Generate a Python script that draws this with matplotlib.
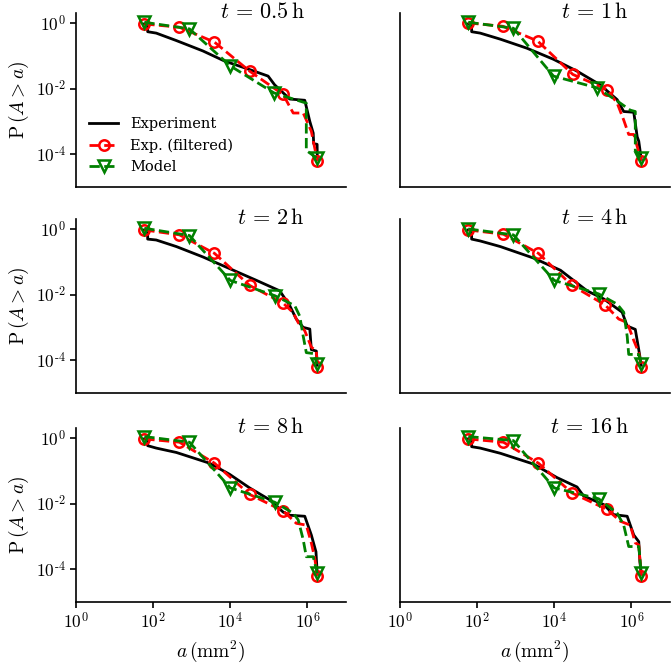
import numpy as np
import matplotlib
matplotlib.use("Agg")
import matplotlib.pyplot as plt

plt.rcParams["font.family"] = "DejaVu Serif"
plt.rcParams["mathtext.fontset"] = "cm"

# panel titles
times = ["0.5", "1", "2", "4", "8", "16"]

# experiment (black solid), a in mm^2 and P(A > a)
exp_a = [
    [59, 72, 72, 120, 400, 1950, 7080, 31600, 95500, 141000, 347000, 851000, 1150000, 1410000, 1450000, 1780000, 1800000],
    [59, 72, 72, 120, 400, 1950, 9550, 38900, 155000, 427000, 631000, 1150000, 1410000, 1550000, 1800000],
    [59, 72, 72, 120, 400, 1950, 9550, 47900, 191000, 347000, 513000, 776000, 1150000, 1260000, 1700000, 1800000],
    [59, 72, 72, 120, 400, 2880, 14500, 70800, 191000, 575000, 776000, 1260000, 1550000, 1800000],
    [59, 72, 72, 120, 400, 2880, 9550, 31600, 105000, 234000, 347000, 851000, 1260000, 1660000, 1800000],
    [59, 72, 72, 120, 400, 2880, 11700, 38900, 57500, 191000, 347000, 776000, 1150000, 1550000, 1660000, 1800000],
]
exp_p = [
    [0.93, 0.93, 0.54, 0.49, 0.29, 0.14, 0.069, 0.038, 0.024, 0.013, 0.0048, 0.0044, 0.001, 0.00044, 0.00021, 0.0002, 7e-5],
    [0.93, 0.93, 0.54, 0.49, 0.32, 0.17, 0.078, 0.034, 0.013, 0.0046, 0.002, 0.0019, 0.00034, 0.00025, 7e-5],
    [0.93, 0.93, 0.49, 0.46, 0.29, 0.14, 0.062, 0.027, 0.013, 0.0046, 0.0018, 0.001, 0.00089, 0.00021, 0.00019, 7e-5],
    [0.93, 0.93, 0.49, 0.43, 0.29, 0.13, 0.055, 0.013, 0.0074, 0.0029, 0.0011, 0.00087, 0.00021, 7e-5],
    [0.93, 0.93, 0.58, 0.49, 0.36, 0.17, 0.078, 0.03, 0.013, 0.0055, 0.0044, 0.0041, 0.0011, 0.00034, 7e-5],
    [0.93, 0.93, 0.54, 0.49, 0.34, 0.16, 0.062, 0.032, 0.017, 0.0093, 0.0046, 0.0041, 0.0011, 0.00069, 0.00017, 7e-5],
]

# filtered experiment (red dashed, circles)
filt_a = [
    [59, 480, 3890, 31600, 234000, 427000, 776000, 1260000, 1800000],
    [59, 468, 3720, 30200, 234000, 427000, 631000, 851000, 1150000, 1800000],
    [59, 480, 3890, 31600, 234000, 427000, 575000, 851000, 1260000, 1700000, 1800000],
    [59, 480, 3890, 28800, 209000, 468000, 776000, 1150000, 1550000, 1800000],
    [59, 480, 3890, 31600, 234000, 513000, 933000, 1260000, 1550000, 1800000],
    [59, 480, 3890, 28800, 234000, 513000, 933000, 1260000, 1550000, 1800000],
]
filt_p = [
    [0.93, 0.74, 0.26, 0.034, 0.0066, 0.0018, 0.0018, 0.0005, 6.3e-5],
    [1.0, 0.79, 0.28, 0.027, 0.0093, 0.0036, 0.0011, 0.0004, 0.0004, 6.3e-5],
    [0.93, 0.66, 0.18, 0.019, 0.0055, 0.0028, 0.0014, 0.00079, 0.00025, 0.00019, 6.3e-5],
    [0.93, 0.69, 0.18, 0.019, 0.0048, 0.0018, 0.0014, 0.0004, 0.00017, 6.3e-5],
    [0.93, 0.74, 0.17, 0.019, 0.006, 0.0025, 0.0022, 0.00063, 0.00021, 6.3e-5],
    [0.93, 0.74, 0.17, 0.021, 0.0066, 0.0029, 0.0022, 0.00063, 0.00055, 6.3e-5],
]

# model (green dashed, triangles)
model_a = [
    [59, 871, 10000, 135000, 933000, 933000, 1800000],
    [59, 871, 9550, 129000, 427000, 933000, 1260000, 1260000, 1800000],
    [59, 871, 10000, 141000, 468000, 631000, 776000, 933000, 1410000, 1800000],
    [59, 871, 10000, 141000, 427000, 631000, 776000, 851000, 1550000, 1800000],
    [59, 871, 10000, 141000, 427000, 575000, 776000, 933000, 1410000, 1800000],
    [59, 871, 10000, 141000, 427000, 631000, 851000, 1550000, 1800000],
]
model_p = [
    [1.05, 0.66, 0.049, 0.0074, 0.0036, 0.00013, 7.5e-5],
    [1.05, 0.69, 0.024, 0.0105, 0.0042, 0.0022, 0.002, 0.00013, 7.5e-5],
    [1.05, 0.63, 0.027, 0.0093, 0.0046, 0.0022, 0.00054, 0.00017, 0.00016, 7.5e-5],
    [1.0, 0.66, 0.027, 0.0105, 0.0051, 0.0029, 0.00054, 0.00015, 0.00015, 7.5e-5],
    [1.1, 0.74, 0.03, 0.011, 0.0051, 0.0032, 0.00079, 0.00024, 0.00024, 7.5e-5],
    [1.1, 0.83, 0.03, 0.014, 0.0051, 0.0022, 0.00049, 0.00049, 7.5e-5],
]

fig = plt.figure(figsize=(6.71, 6.63), dpi=100)
lefts = [0.1133, 0.5961]
bottoms = [0.7179, 0.4072, 0.092]
W, H = 0.4024, 0.2624

for i in range(6):
    row, col = i // 2, i % 2
    ax = fig.add_axes([lefts[col], bottoms[row], W, H])
    ax.plot(exp_a[i], exp_p[i], color="black", lw=2, label="Experiment")
    n = len(filt_a[i])
    ax.plot(filt_a[i], filt_p[i], "--", color="red", lw=2, marker="o", ms=7.5,
            mfc="none", mew=1.8, markevery=[0, 1, 2, 3, 4, n - 1], label="Exp. (filtered)")
    m = len(model_a[i])
    ax.plot(model_a[i], model_p[i], "--", color="green", lw=2, marker="v", ms=8.5,
            mfc="none", mew=1.8, markevery=[0, 1, 2, 3, m - 1], label="Model")
    ax.set_xscale("log")
    ax.set_yscale("log")
    ax.set_xlim(1, 1e7)
    ax.set_ylim(1e-5, 2)
    ax.set_xticks([1, 1e2, 1e4, 1e6])
    ax.set_xticklabels([r"$10^{0}$", r"$10^{2}$", r"$10^{4}$", r"$10^{6}$"])
    ax.set_yticks([1, 1e-2, 1e-4])
    ax.set_yticklabels([r"$10^{0}$", r"$10^{\text{-}2}$", r"$10^{\text{-}4}$"])
    ax.minorticks_off()
    ax.spines["top"].set_visible(False)
    ax.spines["right"].set_visible(False)
    for s in ["left", "bottom"]:
        ax.spines[s].set_linewidth(1.2)
    ax.tick_params(labelsize=12.5, direction="out", length=4, width=1.2)
    if row < 2:
        ax.tick_params(bottom=False, labelbottom=False)
    else:
        ax.set_xlabel(r"$a\,(\mathrm{mm}^2)$", fontsize=14)
    if col == 1:
        ax.tick_params(left=False, labelleft=False)
    else:
        ax.set_ylabel(r"$\mathrm{P}\,(A > a)$", fontsize=14)
        ax.yaxis.set_label_coords(-0.165, 0.5)
    ax.text(0.848, 0.971, r"$t\,=\,%s\,\mathrm{h}$" % times[i], transform=ax.transAxes,
            ha="right", va="baseline", fontsize=16)
    if i == 0:
        ax.legend(loc="lower left", frameon=False, fontsize=10.5, bbox_to_anchor=(0.0, 0.0))

fig.savefig("out.png", dpi=100)
